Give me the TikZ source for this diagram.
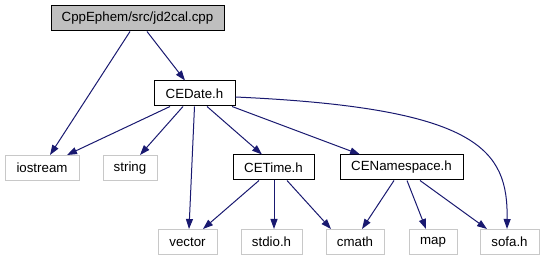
\documentclass[tikz,border=0pt]{standalone}
\usepackage{fontspec}
\setmainfont{Liberation Sans}
\usepackage{xcolor}
\usepackage{tikz}
\usetikzlibrary{arrows.meta}
\definecolor{depBlue}{RGB}{25,25,112}
\definecolor{depGray}{RGB}{191,191,191}
\definecolor{depGrayLine}{RGB}{200,200,200}

\begin{document}
\begin{tikzpicture}[x=1pt, y=-1pt,
  every node/.style={font=\fontsize{13.3}{16}\selectfont, inner sep=0pt, minimum height=25pt},
  fileNode/.style={draw=black, line width=1pt, fill=white},
  extNode/.style={draw=depGrayLine, line width=1pt, fill=white},
  incArrow/.style={depBlue, line width=1pt, -{Triangle[length=10pt,width=7pt]}}]
\useasboundingbox (0,0) rectangle (545,261);
% source file and headers of the project
\node[fileNode, fill=depGray, minimum width=173pt] (jdcal) at (137.5,18.5) {CppEphem/src/jd2cal.cpp};
\node[fileNode, minimum width=81pt] (cedate) at (194.5,93.5) {CEDate.h};
\node[fileNode, minimum width=81pt] (cetime) at (273.5,167.5) {CETime.h};
\node[fileNode, minimum width=123pt] (cens) at (401.5,167.5) {CENamespace.h};
% system headers
\node[extNode, minimum width=74pt] (iostream) at (42,168) {iostream};
\node[extNode, minimum width=54pt] (string) at (130,168) {string};
\node[extNode, minimum width=59pt] (vector) at (187.5,242) {vector};
\node[extNode, minimum width=61pt] (stdio) at (271.5,242) {stdio.h};
\node[extNode, minimum width=58pt] (cmath) at (355,242) {cmath};
\node[extNode, minimum width=48pt] (map) at (433,242) {map};
\node[extNode, minimum width=59pt] (sofa) at (509.5,242) {sofa.h};
% includes
\draw[incArrow] ([xshift=-7.5pt]jdcal.south) -- ([xshift=8pt]iostream.north);
\draw[incArrow] ([xshift=9.5pt]jdcal.south) -- ([xshift=-9.5pt]cedate.north);
\draw[incArrow] ([xshift=-24.5pt]cedate.south) -- ([xshift=25pt]iostream.north);
\draw[incArrow] ([xshift=-11.5pt]cedate.south) -- ([xshift=10pt]string.north);
\draw[incArrow] (cedate.south) -- ([xshift=1.5pt]vector.north);
\draw[incArrow] ([xshift=12.5pt]cedate.south) -- ([xshift=-11.5pt]cetime.north);
\draw[incArrow] ([xshift=37.5pt]cedate.south) -- ([xshift=-41.5pt]cens.north);
\draw[incArrow] ([yshift=-3.5pt]cedate.east) .. controls (480,108) and (508,150) .. ([xshift=-2.5pt]sofa.north);
\draw[incArrow] ([xshift=-14.5pt]cetime.south) -- ([xshift=15.5pt]vector.north);
\draw[incArrow] ([xshift=0.5pt]cetime.south) -- ([xshift=2.5pt]stdio.north);
\draw[incArrow] ([xshift=13.5pt]cetime.south) -- ([xshift=-24pt]cmath.north);
\draw[incArrow] ([xshift=-7.5pt]cens.south) -- ([xshift=7pt]cmath.north);
\draw[incArrow] ([xshift=5.5pt]cens.south) -- ([xshift=-7pt]map.north);
\draw[incArrow] ([xshift=18.5pt]cens.south) -- ([xshift=-22.5pt]sofa.north);
\end{tikzpicture}
\end{document}
